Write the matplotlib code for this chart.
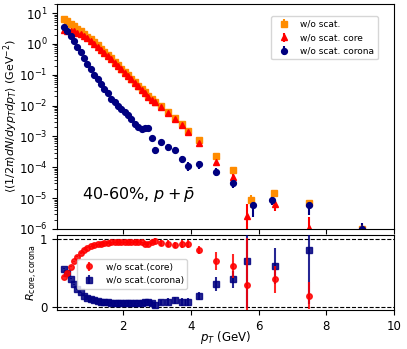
import numpy as np
import matplotlib
matplotlib.use("Agg")
import matplotlib.pyplot as plt

# pT bins shared by the three spectra (GeV)
pt = [0.25, 0.35, 0.45, 0.55, 0.65, 0.75, 0.85, 0.95, 1.05, 1.15,
      1.25, 1.35, 1.45, 1.55, 1.65, 1.75, 1.85, 1.95, 2.05, 2.15,
      2.25, 2.35, 2.45, 2.55, 2.65, 2.75, 2.85, 2.95, 3.13, 3.33,
      3.53, 3.73, 3.93, 4.25, 4.75, 5.24]
# last bins have slightly different mean pT per sample
pt_tot = pt + [5.79, 6.45, 7.48, 9.05]
pt_core = pt + [5.66, 6.49, 7.48, 9.05]
pt_cor = pt + [5.84, 6.40, 7.48, 9.05]

# spectra (GeV^-2)
tot = [6.31, 5.37, 4.57, 3.80, 3.16, 2.63, 2.14, 1.74, 1.41, 1.12,
       0.891, 0.708, 0.562, 0.437, 0.339, 0.263, 0.204, 0.158, 0.123, 0.0955,
       0.0741, 0.0575, 0.0447, 0.0347, 0.0269, 0.0209, 0.0166, 0.0132, 0.00955, 0.00617,
       0.00398, 0.00257, 0.00151, 7.6e-4, 2.24e-4, 8.3e-5,
       8.7e-6, 1.5e-5, 7.1e-6, 1.0e-6]
core = [2.78, 2.68, 2.70, 2.55, 2.34, 2.08, 1.80, 1.51, 1.26, 1.02,
        0.82, 0.658, 0.528, 0.411, 0.322, 0.250, 0.194, 0.150, 0.117, 0.0907,
        0.0704, 0.0549, 0.0427, 0.0330, 0.0250, 0.0190, 0.0157, 0.0128, 0.0089, 0.00572,
        0.00362, 0.00238, 0.00140, 6.3e-4, 1.52e-4, 4.9e-5,
        2.6e-6, 6.3e-6, 1.1e-6, 1.0e-6]
cor = [3.53, 2.69, 1.87, 1.25, 0.82, 0.55, 0.34, 0.226, 0.155, 0.10,
       0.071, 0.050, 0.034, 0.026, 0.017, 0.013, 0.010, 0.0079, 0.0062, 0.0048,
       0.0037, 0.0026, 0.0020, 0.0017, 0.0019, 0.0019, 8.9e-4, 3.6e-4, 6.5e-4, 4.5e-4,
       3.6e-4, 1.86e-4, 1.12e-4, 1.26e-4, 7.2e-5, 3.2e-5,
       6.0e-6, 9.0e-6, 5.9e-6, 1.0e-6]

# errors, only the sparse high pT part is visible
err_tot = [0] * 28 + [2e-4, 1.5e-4, 1e-4, 7e-5, 5e-5, 3e-5, 1.2e-5, 6e-6,
                      4e-6, 2e-6, 1.5e-6, 5e-7]
err_core = [0] * 28 + [2e-4, 1.5e-4, 1e-4, 7e-5, 5e-5, 3e-5, 1.2e-5, 1e-5,
                       4e-6, 2.5e-6, 1.3e-6, 0]
err_cor = [0] * 27 + [1e-4, 1.2e-4, 1e-4, 8e-5, 5e-5, 3.5e-5, 3.5e-5, 2e-5, 1e-5,
                      3.5e-6, 3e-6, 3e-6, 6e-7]

# core / corona fraction
pt_r = pt + [5.66, 6.49, 7.48]
r_core = [0.44, 0.50, 0.59, 0.67, 0.74, 0.79, 0.84, 0.87, 0.89, 0.91,
          0.92, 0.93, 0.94, 0.94, 0.95, 0.95, 0.95, 0.95, 0.95, 0.95,
          0.95, 0.955, 0.955, 0.95, 0.93, 0.93, 0.95, 0.97, 0.94, 0.93,
          0.91, 0.93, 0.93, 0.84, 0.67, 0.60, 0.32, 0.40, 0.16]
r_cor = [0.56, 0.50, 0.41, 0.33, 0.26, 0.21, 0.16, 0.13, 0.11, 0.09,
         0.08, 0.07, 0.06, 0.06, 0.05, 0.05, 0.05, 0.05, 0.05, 0.05,
         0.05, 0.045, 0.045, 0.05, 0.07, 0.07, 0.05, 0.03, 0.06, 0.07,
         0.09, 0.07, 0.07, 0.16, 0.33, 0.40, 0.68, 0.60, 0.84]
err_rcore = [0.01] * 24 + [0.02, 0.02, 0.03, 0.04, 0.04, 0.05, 0.05, 0.06, 0.06,
                           0.06, 0.13, 0.18, 0.7, 0.2, 0.2]
err_rcor = [0.01] * 24 + [0.02, 0.02, 0.03, 0.04, 0.04, 0.05, 0.05, 0.06, 0.06,
                          0.06, 0.1, 0.13, 0.7, 0.27, 0.8]

fig = plt.figure(figsize=(4.07, 3.49), dpi=100)
ax1 = fig.add_axes([0.140, 0.344, 0.828, 0.645])
ax2 = fig.add_axes([0.140, 0.112, 0.828, 0.215])

ax1.errorbar(pt_tot, tot, yerr=err_tot, fmt='s', color='darkorange', ms=4.2,
             label='w/o scat.')
ax1.errorbar(pt_core, core, yerr=err_core, fmt='^', color='red', ms=4.2,
             label='w/o scat. core')
ax1.errorbar(pt_cor, cor, yerr=err_cor, fmt='o', color='navy', ms=4.2,
             label='w/o scat. corona')
ax1.set_yscale('log')
ax1.set_xlim(0.05, 10)
ax1.set_ylim(1e-6, 20)
ax1.set_xticklabels([])
ax1.tick_params(labelsize=8.5)
ax1.set_ylabel(r'$\langle(1/2\pi)dN/dyp_T dp_T\rangle$ (GeV$^{-2}$)', fontsize=8)
ax1.yaxis.set_label_coords(-0.11, 0.5)
ax1.legend(loc='upper right', bbox_to_anchor=(0.965, 0.965), fontsize=6.5)
ax1.text(0.074, 0.147, r'40-60%, $p+\bar{p}$', transform=ax1.transAxes,
         fontsize=11.5, va='center')

ax2.axhline(1, color='k', ls='--', lw=0.8)
ax2.axhline(0, color='k', ls='--', lw=0.8)
ax2.errorbar(pt_r, r_cor, yerr=err_rcor, fmt='s', color='navy', ms=4,
             alpha=0.85, label='w/o scat.(corona)', zorder=3)
ax2.errorbar(pt_r, r_core, yerr=err_rcore, fmt='o', color='red', ms=4,
             alpha=0.85, label='w/o scat.(core)', zorder=4)
ax2.set_xlim(0.05, 10)
ax2.set_ylim(-0.05, 1.06)
ax2.set_yticks([0, 1])
ax2.tick_params(labelsize=8.5)
ax2.set_xlabel(r'$p_T$ (GeV)', fontsize=8.5)
ax2.xaxis.set_label_coords(0.5, -0.25)
ax2.set_ylabel(r'$R_{\rm core, corona}$', fontsize=8)
ax2.yaxis.set_label_coords(-0.05, 0.5)
h, l = ax2.get_legend_handles_labels()
ax2.legend(h[::-1], l[::-1], loc='upper left', bbox_to_anchor=(0.045, 0.74),
           fontsize=6.5)

fig.savefig('out.png', dpi=100)
